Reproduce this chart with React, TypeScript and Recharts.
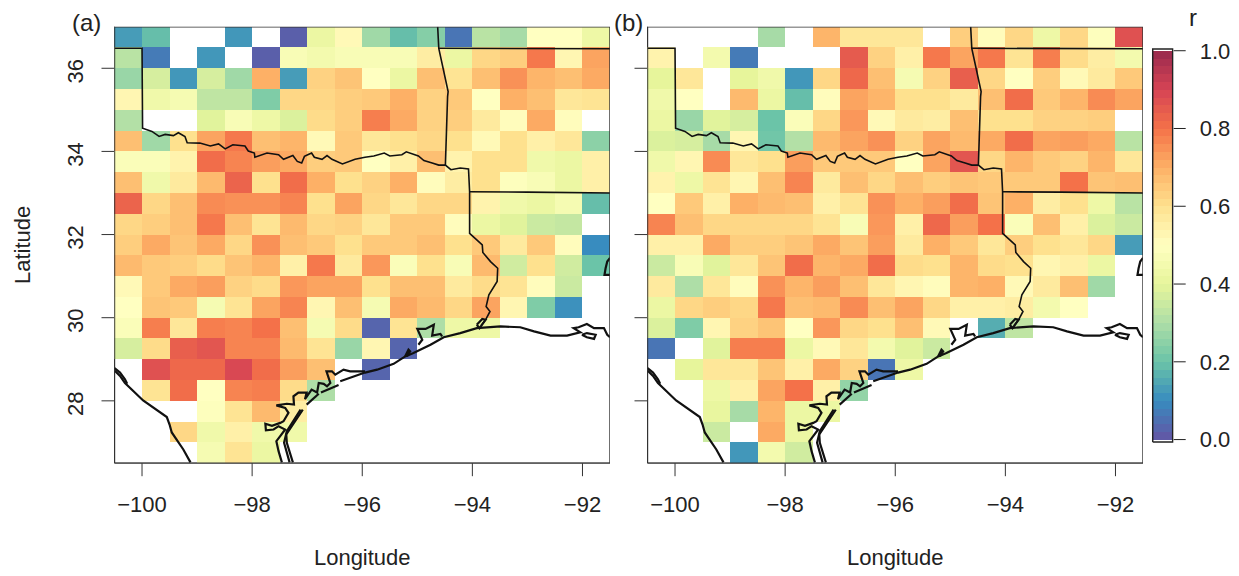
import React from 'react';
import { ScatterChart, Scatter, XAxis, YAxis } from 'recharts';

const colLons = [-100.25, -99.75, -99.25, -98.75, -98.25, -97.75, -97.25, -96.75, -96.25, -95.75, -95.25, -94.75, -94.25, -93.75, -93.25, -92.75, -92.25, -91.75];
const rowLats = [36.75, 36.25, 35.75, 35.25, 34.75, 34.25, 33.75, 33.25, 32.75, 32.25, 31.75, 31.25, 30.75, 30.25, 29.75, 29.25, 28.75, 28.25, 27.75, 27.25, 26.75];
const lonTicks = [-100, -98, -96, -94, -92];
const latTicks = [28, 30, 32, 34, 36];
const barTicks = [0, 0.2, 0.4, 0.6, 0.8, 1];
const barLevels = [0.01, 0.03, 0.05, 0.07, 0.09, 0.11, 0.13, 0.15, 0.17, 0.19, 0.21, 0.23, 0.25, 0.27, 0.29, 0.31, 0.33, 0.35, 0.37, 0.39, 0.41, 0.43, 0.45, 0.47, 0.49, 0.51, 0.53, 0.55, 0.57, 0.59, 0.61, 0.63, 0.65, 0.67, 0.69, 0.71, 0.73, 0.75, 0.77, 0.79, 0.81, 0.83, 0.85, 0.87, 0.89, 0.91, 0.93, 0.95, 0.97, 0.99];

const _ = null;
// rows run north to south, columns west to east
const panelA = [
  [0.13, 0.19, _, _, 0.12, _, 0.02, 0.42, 0.52, 0.28, 0.19, 0.24, 0.06, 0.32, 0.29, 0.5, 0.5, 0.43],
  [0.32, 0.07, _, 0.12, _, 0.02, 0.47, 0.45, 0.47, 0.47, 0.47, 0.56, 0.42, 0.62, 0.64, 0.79, 0.53, 0.72],
  [0.27, 0.37, 0.12, 0.37, 0.28, 0.7, 0.13, 0.63, 0.66, 0.5, 0.42, 0.67, 0.59, 0.67, 0.75, 0.69, 0.67, 0.71],
  [0.53, 0.44, 0.46, 0.33, 0.33, 0.23, 0.62, 0.62, 0.64, 0.65, 0.7, 0.63, 0.65, 0.5, 0.7, 0.67, 0.58, 0.59],
  [0.31, _, _, 0.39, 0.47, 0.43, 0.38, 0.61, 0.64, 0.78, 0.71, 0.63, 0.64, 0.57, 0.51, 0.71, 0.51, _],
  [0.67, 0.28, 0.6, 0.72, 0.79, 0.67, 0.69, 0.52, 0.65, 0.58, 0.6, 0.62, 0.6, 0.52, 0.6, 0.55, 0.58, 0.25],
  [0.48, 0.48, 0.54, 0.81, 0.77, 0.73, 0.71, 0.64, 0.65, 0.5, 0.55, 0.67, 0.54, 0.6, 0.6, 0.44, 0.42, 0.55],
  [0.67, 0.44, 0.57, 0.68, 0.83, 0.6, 0.81, 0.7, 0.6, 0.63, 0.7, 0.51, 0.56, 0.6, 0.49, 0.47, 0.42, 0.55],
  [0.83, 0.62, 0.67, 0.76, 0.75, 0.75, 0.77, 0.6, 0.72, 0.62, 0.58, 0.62, 0.62, 0.54, 0.44, 0.42, 0.46, 0.19],
  [0.62, 0.64, 0.67, 0.79, 0.67, 0.59, 0.68, 0.62, 0.63, 0.58, 0.65, 0.65, 0.51, 0.42, 0.39, 0.35, 0.34, _],
  [0.64, 0.71, 0.66, 0.71, 0.62, 0.75, 0.67, 0.65, 0.6, 0.65, 0.65, 0.67, 0.6, 0.65, 0.57, 0.65, 0.51, 0.1],
  [0.68, 0.65, 0.64, 0.61, 0.66, 0.69, 0.55, 0.79, 0.57, 0.74, 0.48, 0.6, 0.47, 0.68, 0.36, 0.6, 0.36, 0.2],
  [0.52, 0.65, 0.71, 0.73, 0.63, 0.61, 0.74, 0.72, 0.72, 0.6, 0.67, 0.67, 0.57, 0.61, 0.59, 0.51, 0.35, _],
  [0.5, 0.66, 0.65, 0.46, 0.59, 0.72, 0.77, 0.53, 0.67, 0.46, 0.71, 0.68, 0.62, 0.72, 0.53, 0.23, 0.11, _],
  [0.48, 0.78, 0.58, 0.78, 0.77, 0.8, 0.67, 0.46, 0.61, 0.03, 0.59, 0.3, 0.43, 0.43, _, _, _, _],
  [0.37, 0.61, 0.84, 0.86, 0.77, 0.77, 0.68, 0.59, 0.27, 0.53, 0.03, _, _, _, _, _, _, _],
  [_, 0.87, 0.82, 0.82, 0.89, 0.81, 0.73, 0.67, _, 0.03, _, _, _, _, _, _, _, _],
  [_, 0.59, 0.81, 0.5, 0.77, 0.78, 0.61, 0.3, _, _, _, _, _, _, _, _, _, _],
  [_, _, _, 0.49, 0.59, 0.68, 0.56, _, _, _, _, _, _, _, _, _, _, _],
  [_, _, 0.62, 0.44, 0.55, 0.44, 0.44, _, _, _, _, _, _, _, _, _, _, _],
  [_, _, _, 0.46, 0.59, 0.42, _, _, _, _, _, _, _, _, _, _, _, _],
];
const panelB = [
  [_, _, _, _, 0.29, _, 0.69, 0.58, 0.58, 0.58, _, 0.64, 0.51, 0.62, 0.43, 0.62, 0.49, 0.87],
  [0.54, _, 0.45, 0.07, _, _, _, 0.85, 0.63, 0.55, 0.79, 0.72, 0.79, 0.59, 0.78, 0.61, 0.56, 0.45],
  [0.4, 0.58, _, 0.4, 0.44, 0.12, 0.62, 0.82, 0.67, 0.46, 0.63, 0.84, 0.62, 0.5, 0.64, 0.52, 0.57, 0.65],
  [0.44, 0.5, _, 0.68, 0.42, 0.19, 0.51, 0.72, 0.69, 0.6, 0.6, 0.57, 0.67, 0.81, 0.65, 0.69, 0.76, 0.72],
  [0.42, 0.27, 0.39, 0.37, 0.2, 0.48, 0.62, 0.74, 0.52, 0.57, 0.56, 0.67, 0.6, 0.6, 0.63, 0.63, 0.64, _],
  [0.38, 0.37, 0.29, 0.53, 0.21, 0.31, 0.68, 0.72, 0.75, 0.63, 0.72, 0.68, 0.71, 0.81, 0.72, 0.73, 0.71, 0.32],
  [0.44, 0.53, 0.76, 0.58, 0.6, 0.73, 0.65, 0.65, 0.65, 0.5, 0.72, 0.86, 0.62, 0.69, 0.65, 0.63, 0.69, 0.58],
  [0.54, 0.43, 0.59, 0.53, 0.67, 0.77, 0.57, 0.67, 0.62, 0.67, 0.64, 0.66, 0.65, 0.65, 0.65, 0.8, 0.66, 0.67],
  [0.5, 0.65, 0.55, 0.7, 0.68, 0.67, 0.55, 0.59, 0.75, 0.7, 0.73, 0.81, 0.66, 0.7, 0.56, 0.6, 0.43, 0.32],
  [0.77, 0.67, 0.62, 0.62, 0.62, 0.62, 0.59, 0.47, 0.74, 0.55, 0.82, 0.73, 0.8, 0.48, 0.67, 0.55, 0.38, 0.35],
  [0.55, 0.55, 0.71, 0.64, 0.64, 0.66, 0.71, 0.66, 0.73, 0.57, 0.7, 0.65, 0.58, 0.64, 0.6, 0.58, 0.62, 0.13],
  [0.35, 0.47, 0.39, 0.58, 0.66, 0.81, 0.69, 0.71, 0.81, 0.61, 0.6, 0.69, 0.61, 0.6, 0.53, 0.55, 0.42, _],
  [0.57, 0.3, 0.58, 0.51, 0.75, 0.69, 0.73, 0.67, 0.58, 0.53, 0.51, 0.69, 0.7, 0.52, 0.57, 0.67, 0.28, _],
  [0.42, 0.62, 0.64, 0.62, 0.79, 0.67, 0.68, 0.76, 0.67, 0.72, 0.62, 0.55, 0.55, 0.56, 0.45, 0.5, _, _],
  [0.38, 0.23, 0.53, 0.63, 0.66, 0.5, 0.74, 0.62, 0.6, 0.67, 0.52, _, 0.16, 0.33, _, _, _, _],
  [0.06, _, 0.39, 0.78, 0.78, 0.42, 0.52, 0.58, 0.45, 0.39, 0.35, _, _, _, _, _, _, _],
  [_, 0.4, 0.58, 0.58, 0.66, 0.55, 0.71, 0.63, 0.06, 0.43, _, _, _, _, _, _, _, _],
  [_, _, 0.43, 0.55, 0.72, 0.8, 0.55, 0.26, _, _, _, _, _, _, _, _, _, _],
  [_, _, 0.41, 0.29, 0.69, 0.42, 0.42, _, _, _, _, _, _, _, _, _, _, _],
  [_, _, 0.35, _, 0.71, 0.42, _, _, _, _, _, _, _, _, _, _, _, _],
  [_, _, _, 0.12, 0.45, 0.36, _, _, _, _, _, _, _, _, _, _, _, _],
];

// outlines, [lon, lat]
const mapFrame = [[-100.5, 26.5], [-100.5, 37], [-91.5, 37], [-91.5, 26.5], [-100.5, 26.5]];
const redRiver = [[-100.5, 36.48], [-100, 36.48], [-99.99, 34.56], [-99.82, 34.48], [-99.69, 34.36], [-99.58, 34.41], [-99.43, 34.38], [-99.34, 34.45], [-99.22, 34.36], [-99.18, 34.21], [-98.95, 34.2], [-98.76, 34.13], [-98.61, 34.18], [-98.49, 34.06], [-98.35, 34.16], [-98.13, 34.13], [-98.07, 34.01], [-97.96, 33.96], [-97.95, 33.86], [-97.73, 33.96], [-97.52, 33.92], [-97.43, 33.81], [-97.26, 33.9], [-97.18, 33.76], [-97.1, 33.72], [-97.05, 33.88], [-96.99, 33.92], [-96.92, 33.96], [-96.87, 33.86], [-96.73, 33.81], [-96.64, 33.9], [-96.55, 33.81], [-96.36, 33.7], [-96.13, 33.81], [-95.95, 33.86], [-95.79, 33.89], [-95.6, 33.96], [-95.5, 33.89], [-95.28, 33.92], [-95.2, 33.99], [-94.98, 33.89], [-94.88, 33.78], [-94.73, 33.72], [-94.61, 33.67], [-94.49, 33.67], [-94.39, 33.56], [-94.22, 33.6], [-94.07, 33.58], [-94.05, 33.03], [-94.05, 32.03], [-93.92, 31.87], [-93.82, 31.75], [-93.81, 31.57], [-93.67, 31.35], [-93.54, 31.19], [-93.55, 30.87], [-93.7, 30.55], [-93.75, 30.27], [-93.68, 30.15], [-93.76, 29.95], [-93.84, 29.81]];
const okArBorder = [[-94.63, 37], [-94.61, 36.48], [-94.44, 35.44], [-94.45, 35.32], [-94.49, 33.67]];
const moArBorder = [[-94.61, 36.48], [-91.5, 36.47]];
const arLaBorder = [[-94.05, 33.03], [-93, 33.02], [-91.5, 33]];
const rioGrande = [[-100.5, 28.73], [-100.4, 28.6], [-100.31, 28.43], [-99.98, 28.01], [-99.55, 27.61], [-99.5, 27.43], [-99.46, 27.24], [-99.25, 26.83], [-99.12, 26.52]];
const rioGrandeEdge = [[-100.5, 28.79], [-100.4, 28.68], [-100.31, 28.52], [-100.27, 28.41]];
const innerCoast = [[-97.46, 26.52], [-97.52, 26.79], [-97.56, 27.03], [-97.49, 27.15], [-97.4, 27.31], [-97.52, 27.39], [-97.61, 27.31], [-97.75, 27.29], [-97.76, 27.45], [-97.64, 27.4], [-97.49, 27.47], [-97.43, 27.51], [-97.34, 27.71], [-97.4, 27.83], [-97.56, 27.89], [-97.37, 27.93], [-97.24, 27.91], [-97.25, 28.11], [-97.16, 28.2], [-97.01, 28.2], [-97.04, 28.04], [-96.92, 28.27], [-96.82, 28.2], [-96.79, 28.43], [-96.7, 28.41], [-96.64, 28.35], [-96.58, 28.43], [-96.65, 28.71], [-96.55, 28.71], [-96.49, 28.63], [-96.34, 28.75], [-96.22, 28.71], [-95.95, 28.71]];
const barrierOuter = [[-97.26, 26.52], [-97.37, 26.99], [-97.38, 27.19], [-97.08, 27.79]];
const barrierInner = [[-97.32, 26.52], [-97.42, 26.99], [-97.37, 27.27], [-97.12, 27.79]];
const islandOne = [[-97.01, 27.91], [-96.79, 28.17]];
const islandTwo = [[-96.75, 28.2], [-96.43, 28.38]];
const gulfCoast = [[-96.4, 28.47], [-95.95, 28.68], [-95.73, 28.75], [-95.43, 28.89], [-95.22, 29.07], [-95.07, 29.15], [-94.76, 29.35], [-94.52, 29.53], [-94.22, 29.63], [-93.92, 29.75], [-93.49, 29.79], [-93.13, 29.77], [-92.88, 29.67], [-92.58, 29.57], [-92.28, 29.57], [-92.04, 29.65], [-92.16, 29.75], [-92.07, 29.77], [-91.92, 29.85], [-91.79, 29.75], [-91.61, 29.75], [-91.55, 29.59], [-91.5, 29.53]];
const marshIsland = [[-92.01, 29.59], [-91.92, 29.63], [-91.76, 29.59], [-91.79, 29.49], [-91.92, 29.53], [-92.01, 29.59]];
const galvestonBay = [[-94.55, 29.55], [-94.58, 29.61], [-94.73, 29.57], [-94.7, 29.83], [-94.85, 29.73], [-95, 29.73], [-94.91, 29.47], [-94.98, 29.35]];
const sabineLake = [[-93.92, 29.83], [-93.82, 29.97], [-93.76, 29.95], [-93.87, 29.75], [-93.92, 29.83]];
const freeportBit = [[-95.22, 29.07], [-95.16, 29.23], [-95.13, 29.19], [-95.19, 29.07]];
const vermilionBit = [[-91.5, 31.44], [-91.55, 31.35], [-91.58, 31.19], [-91.6, 31.03], [-91.5, 31.03]];
const barFrame = [[0, -0.0062], [0, 1.0044], [1, 1.0044], [1, -0.0062], [0, -0.0062]];

const thinLines = [redRiver, okArBorder, moArBorder, arLaBorder];
const thickLines = [rioGrande, rioGrandeEdge, innerCoast, barrierOuter, barrierInner, islandOne, islandTwo, gulfCoast, marshIsland, galvestonBay, sabineLake, freeportBit, vermilionBit];

const spectral = ['#5e4fa2', '#3288bd', '#66c2a5', '#abdda4', '#e6f598', '#ffffbf', '#fee08b', '#fdae61', '#f46d43', '#d53e4f', '#952348'];
const ALPHA = 0.97;

const rgb = (hex: string) => [1, 3, 5].map((i) => parseInt(hex.slice(i, i + 2), 16));

const colorOf = (r: number) => {
  const t = Math.min(Math.max(r, 0), 1) * 10;
  const i = Math.min(Math.floor(t), 9);
  const a = rgb(spectral[i]);
  const b = rgb(spectral[i + 1]);
  const c = a.map((v, k) => (v + (b[k] - v) * (t - i)) * ALPHA + 255 * (1 - ALPHA));
  return `rgb(${c.map(Math.round).join(',')})`;
};

const FONT = '"Liberation Sans", Arial, sans-serif';
const INK = '#222';
const TEXT_SIZE = 22;
const CELL_W = 27.53;
const CELL_H = 20.79;

const toCells = (rows: (number | null)[][]) =>
  rows.flatMap((row, i) =>
    row.flatMap((r, j) => (r === null ? [] : [{ lon: colLons[j], lat: rowLats[i], r }]))
  );

const toPoints = (line: number[][]) => line.map(([lon, lat]) => ({ lon, lat }));

const MapCell = (props: any) => (
  <rect
    x={props.cx - CELL_W / 2}
    y={props.cy - CELL_H / 2}
    width={CELL_W}
    height={CELL_H}
    fill={colorOf(props.payload.r)}
    shapeRendering="crispEdges"
  />
);

const NoDot = () => <g />;

const LatTick = (props: any) => {
  const x = props.x - 16;
  const y = props.y + 3;
  return (
    <text x={x} y={y} textAnchor="middle" fontSize={TEXT_SIZE} fontFamily={FONT} fill={INK} transform={`rotate(-90 ${x} ${y})`}>
      {props.payload.value}
    </text>
  );
};

const MapPanel = ({ values, left, showLat }: { values: (number | null)[][]; left: number; showLat: boolean }) => (
  <div style={{ position: 'absolute', left, top: 0 }}>
    <ScatterChart width={620} height={576} margin={{ top: 26.7, right: 10, bottom: 0, left: 0 }}>
      <XAxis
        type="number"
        dataKey="lon"
        domain={[-100.5, -91.5]}
        ticks={lonTicks}
        allowDataOverflow
        height={112.8}
        tickSize={13}
        tickMargin={20}
        interval={0}
        stroke="#333"
        tick={{ fill: INK, fontSize: TEXT_SIZE, fontFamily: FONT }}
        tickFormatter={(v: number) => String(v).replace('-', '\u2212')}
        label={{ value: 'Longitude', position: 'insideBottom', offset: 11, fill: INK, fontSize: TEXT_SIZE, fontFamily: FONT }}
      />
      <YAxis
        type="number"
        dataKey="lat"
        domain={[26.5, 37]}
        ticks={latTicks}
        allowDataOverflow
        width={114.5}
        tickSize={13}
        interval={0}
        stroke="#333"
        tick={showLat ? <LatTick /> : <NoDot />}
        label={showLat ? { value: 'Latitude', angle: -90, position: 'insideLeft', offset: 22, fill: INK, fontSize: TEXT_SIZE, fontFamily: FONT, style: { textAnchor: 'middle' } } : undefined}
      />
      <Scatter data={toCells(values)} shape={<MapCell />} isAnimationActive={false} />
      {thinLines.map((line, i) => (
        <Scatter key={`thin${i}`} data={toPoints(line)} line={{ stroke: '#111', strokeWidth: 1.6 }} shape={<NoDot />} isAnimationActive={false} />
      ))}
      {thickLines.map((line, i) => (
        <Scatter key={`thick${i}`} data={toPoints(line)} line={{ stroke: '#111', strokeWidth: 2.2 }} shape={<NoDot />} isAnimationActive={false} />
      ))}
      <Scatter data={toPoints(mapFrame)} line={{ stroke: '#333', strokeWidth: 1.4 }} shape={<NoDot />} isAnimationActive={false} />
    </ScatterChart>
  </div>
);

const BarCell = (props: any) => (
  <rect x={props.cx - 10} y={props.cy - 4.1} width={20} height={8.2} fill={colorOf(props.payload.r)} shapeRendering="crispEdges" />
);

const ColorBar = () => (
  <div style={{ position: 'absolute', left: 1120, top: 0 }}>
    <ScatterChart width={119} height={576} margin={{ top: 48, right: 0, bottom: 133, left: 31.7 }}>
      <XAxis type="number" dataKey="x" domain={[-0.05, 1.05]} allowDataOverflow hide />
      <YAxis
        type="number"
        dataKey="r"
        orientation="right"
        domain={[-0.0088, 1.007]}
        ticks={barTicks}
        allowDataOverflow
        width={65.3}
        tickSize={12}
        tickMargin={14}
        interval={0}
        stroke="#222"
        axisLine={false}
        tick={{ fill: INK, fontSize: TEXT_SIZE, fontFamily: FONT, textAnchor: 'start' }}
        tickFormatter={(v: number) => v.toFixed(1)}
      />
      <Scatter data={barLevels.map((r) => ({ x: 0.5, r }))} shape={<BarCell />} isAnimationActive={false} />
      <Scatter
        data={barFrame.map(([x, r]) => ({ x, r }))}
        line={{ stroke: '#222', strokeWidth: 1.5 }}
        shape={<NoDot />}
        isAnimationActive={false}
      />
    </ScatterChart>
  </div>
);

const Note = ({ x, y, text }: { x: number; y: number; text: string }) => (
  <div style={{ position: 'absolute', left: x, top: y, fontFamily: FONT, fontSize: 24, lineHeight: '28px', color: INK }}>{text}</div>
);

export default function App() {
  return (
    <div style={{ position: 'absolute', left: 0, top: 0, width: 1239, height: 576, background: '#fff', overflow: 'hidden' }}>
      <MapPanel values={panelA} left={0} showLat />
      <MapPanel values={panelB} left={533} showLat={false} />
      <ColorBar />
      <Note x={72} y={9} text="(a)" />
      <Note x={614} y={9} text="(b)" />
      <Note x={1189} y={4} text="r" />
    </div>
  );
}
